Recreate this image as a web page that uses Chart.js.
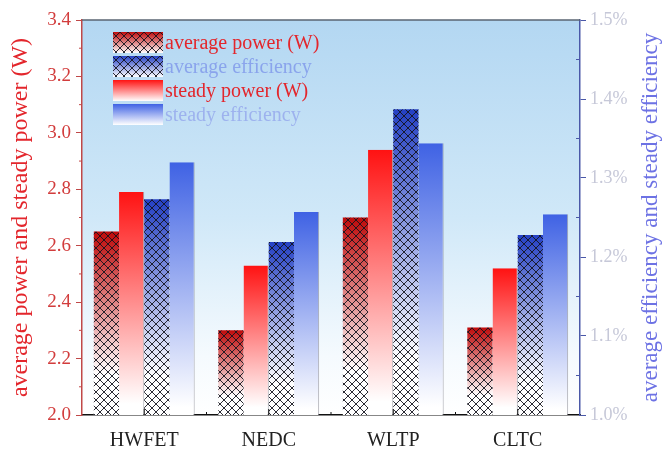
<!DOCTYPE html>
<html>
<head>
<meta charset="utf-8">
<script src="https://cdn.jsdelivr.net/npm/chart.js@4.4.1/dist/chart.umd.min.js"></script>
<style>
  html, body { margin: 0; padding: 0; background: #fff; }
  #wrap { width: 664px; height: 450px; }
</style>
</head>
<body>
<div id="wrap"><canvas id="powerChart"></canvas></div>
<script>
const cycles = ["HWFET", "NEDC", "WLTP", "CLTC"];
const avgPower = [2.65, 2.30, 2.70, 2.31];
const steadyPower = [2.79, 2.53, 2.94, 2.52];
const avgEfficiency = [1.273, 1.219, 1.387, 1.228];     // %
const steadyEfficiency = [1.320, 1.257, 1.344, 1.254];  // %
const powerTicks = [2.0, 2.2, 2.4, 2.6, 2.8, 3.0, 3.2, 3.4];
const effTicks = [1.0, 1.1, 1.2, 1.3, 1.4, 1.5];

const serif = "'Liberation Serif', 'Times New Roman', serif";

// vertical fade from the bar colour at its top down to white at the axis
function fade(top, axisId, stop) {
  return ctx => {
    const chart = ctx.chart, area = chart.chartArea;
    if (!area || ctx.type !== 'data') return top;
    const y0 = chart.scales[axisId].getPixelForValue(ctx.raw);
    const g = chart.ctx.createLinearGradient(0, y0, 0, area.bottom);
    g.addColorStop(0, top);
    g.addColorStop(stop, '#ffffff');
    g.addColorStop(1, '#ffffff');
    return g;
  };
}

const series = [
  { label: 'average power (W)', data: avgPower, axis: 'y', top: '#bf0a0a', stop: 0.78, hatch: true, text: '#e3262c' },
  { label: 'steady power (W)', data: steadyPower, axis: 'y', top: '#ff1212', stop: 0.95, hatch: false, text: '#e3262c' },
  { label: 'average efficiency', data: avgEfficiency, axis: 'y1', top: '#2440c4', stop: 0.82, hatch: true, text: '#8aa4ec' },
  { label: 'steady efficiency', data: steadyEfficiency, axis: 'y1', top: '#3f62e4', stop: 0.97, hatch: false, text: '#9db2ee' }
];
const legendOrder = [0, 2, 1, 3];

function crossHatch(c, l, t, r, b, step) {
  c.save();
  c.beginPath(); c.rect(l, t, r - l, b - t); c.clip();
  c.strokeStyle = 'rgba(20,20,30,0.9)';
  c.lineWidth = 1;
  c.beginPath();
  for (let d = Math.floor((l - b) / step) * step; d <= r - t; d += step) {
    c.moveTo(t + d, t); c.lineTo(b + d, b);
  }
  for (let s = Math.floor((l + t) / step) * step; s <= r + b; s += step) {
    c.moveTo(s - t, t); c.lineTo(s - b, b);
  }
  c.stroke();
  c.restore();
}

const decor = {
  id: 'decor',
  beforeDraw(chart) {
    const { ctx: c, chartArea: a } = chart;
    const g = c.createLinearGradient(0, a.top, 0, a.bottom);
    g.addColorStop(0, '#b3d7f2');
    g.addColorStop(0.5, '#d0e8f8');
    g.addColorStop(0.85, '#f5fafe');
    g.addColorStop(1, '#ffffff');
    c.save();
    c.fillStyle = g;
    c.fillRect(a.left, a.top, a.right - a.left, a.bottom - a.top);
    c.restore();
  },
  afterDatasetsDraw(chart) {
    const c = chart.ctx, a = chart.chartArea;
    chart.data.datasets.forEach((ds, i) => {
      if (!ds.hatch) return;
      chart.getDatasetMeta(i).data.forEach(bar => {
        const { x, y, base, width } = bar.getProps(['x', 'y', 'base', 'width'], true);
        crossHatch(c, x - width / 2, y, x + width / 2, Math.min(base, a.bottom), 8);
      });
    });
    c.save();
    // top frame line
    c.strokeStyle = '#5a6472';
    c.lineWidth = 1.5;
    c.beginPath(); c.moveTo(a.left, a.top); c.lineTo(a.right, a.top); c.stroke();
    // inward ticks on the category axis
    const xs = chart.scales.x;
    const half = (xs.getPixelForTick(1) - xs.getPixelForTick(0)) / 2;
    c.strokeStyle = '#111';
    c.lineWidth = 1;
    c.beginPath();
    xs.ticks.forEach((t, i) => {
      const px = xs.getPixelForTick(i);
      c.moveTo(px, a.bottom); c.lineTo(px, a.bottom - 6);
      if (i < xs.ticks.length - 1) { c.moveTo(px + half, a.bottom); c.lineTo(px + half, a.bottom - 3); }
    });
    c.stroke();
    // minor ticks on both value axes
    const ys = chart.scales.y, y1 = chart.scales.y1;
    c.strokeStyle = '#c04848';
    c.beginPath();
    for (let i = 0; i < powerTicks.length - 1; i++) {
      const py = ys.getPixelForValue((powerTicks[i] + powerTicks[i + 1]) / 2);
      c.moveTo(a.left, py); c.lineTo(a.left - 3, py);
    }
    c.stroke();
    c.strokeStyle = '#4a58a8';
    c.beginPath();
    for (let i = 0; i < effTicks.length - 1; i++) {
      const py = y1.getPixelForValue((effTicks[i] + effTicks[i + 1]) / 2);
      c.moveTo(a.right, py); c.lineTo(a.right - 4, py);
    }
    c.stroke();
    c.restore();
  },
  afterDraw(chart) {
    const c = chart.ctx, a = chart.chartArea;
    const midY = (a.top + a.bottom) / 2;
    c.save();
    // axis titles, both reading bottom to top
    c.textAlign = 'center';
    c.textBaseline = 'middle';
    c.font = `24px ${serif}`;
    c.fillStyle = '#e3262c';
    c.translate(21, midY); c.rotate(-Math.PI / 2);
    c.fillText('average power and steady power (W)', 0, 0);
    c.setTransform(1, 0, 0, 1, 0, 0);
    c.font = `23px ${serif}`;
    c.fillStyle = '#6d72e4';
    c.translate(651, midY); c.rotate(-Math.PI / 2);
    c.fillText('average efficiency and steady efficiency', 0, 0);
    c.setTransform(1, 0, 0, 1, 0, 0);

    // legend
    const sx = 113, sw = 50, sh = 21, rowH = 24, top0 = 32;
    c.font = `20px ${serif}`;
    c.textAlign = 'left';
    legendOrder.forEach((k, row) => {
      const s = series[k];
      const ty = top0 + row * rowH;
      const g = c.createLinearGradient(0, ty, 0, ty + sh);
      g.addColorStop(0, s.top);
      g.addColorStop(1, '#ffffff');
      c.fillStyle = g;
      c.fillRect(sx, ty, sw, sh);
      if (s.hatch) crossHatch(c, sx, ty, sx + sw, ty + sh, 8);
      c.fillStyle = s.text;
      c.fillText(s.label, sx + sw + 2, ty + sh / 2 + 1);
    });
    c.restore();
  }
};

const ctx = document.getElementById('powerChart').getContext('2d');
new Chart(ctx, {
  type: 'bar',
  data: {
    labels: cycles,
    datasets: series.map(s => ({
      label: s.label,
      data: s.data,
      yAxisID: s.axis,
      hatch: s.hatch,
      backgroundColor: fade(s.top, s.axis, s.stop),
      borderWidth: s.hatch ? 0 : { top: 0, left: 0, bottom: 0, right: 1 },
      borderColor: 'rgba(130,130,140,0.7)',
      borderSkipped: 'bottom',
      categoryPercentage: 0.81,
      barPercentage: 1
    }))
  },
  options: {
    responsive: true,
    maintainAspectRatio: false,
    animation: false,
    layout: { padding: { top: 20, left: 0, right: 0, bottom: 0 } },
    plugins: { legend: { display: false }, tooltip: { enabled: false } },
    scales: {
      x: {
        afterFit: s => { s.height = 35; },
        grid: { drawOnChartArea: false, drawTicks: false },
        border: { color: '#111', width: 1.5 },
        ticks: { color: '#222', padding: 14, font: { family: serif, size: 20 } }
      },
      y: {
        position: 'left',
        min: 2.0, max: 3.4,
        afterFit: s => { s.width = 82; },
        afterBuildTicks: s => { s.ticks = powerTicks.map(v => ({ value: v })); },
        grid: { drawOnChartArea: false, tickLength: 6, color: '#c04848' },
        border: { color: '#c04848', width: 1.5 },
        ticks: { color: '#d23c3c', padding: 5, font: { family: serif, size: 19 },
                 callback: v => v.toFixed(1) }
      },
      y1: {
        position: 'right',
        min: 1.0, max: 1.5,
        afterFit: s => { s.width = 84; },
        afterBuildTicks: s => { s.ticks = effTicks.map(v => ({ value: v })); },
        grid: { drawOnChartArea: false, tickLength: 6, color: '#4a58a8' },
        border: { color: '#4a58a8', width: 1.5 },
        ticks: { color: '#c6c8d8', padding: 4, font: { family: serif, size: 18 },
                 callback: v => v.toFixed(1) + '%' }
      }
    }
  },
  plugins: [decor]
});
</script>
</body>
</html>
